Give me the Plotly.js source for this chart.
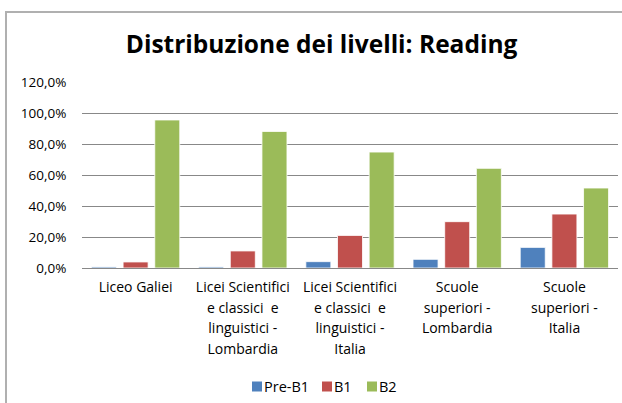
<!DOCTYPE html>
<html>
<head>
<meta charset="utf-8">
<script src="https://cdn.plot.ly/plotly-3.0.1.min.js"></script>
<style>
  html, body { margin: 0; padding: 0; background: #fff; }
  #wrap { position: relative; width: 622px; height: 403px; }
  #chart { position: absolute; left: 0; top: 0; width: 622px; height: 403px; }
  #frame { position: absolute; left: 5px; top: 11px; width: 640px; height: 420px;
           border-top: 2px solid #b0b0b0; border-left: 2px solid #b0b0b0; pointer-events: none; }
</style>
</head>
<body>
<div id="wrap">
  <div id="chart"></div>
  <div id="frame"></div>
</div>
<script>
const categories = [
  "Liceo Galiei",
  "Licei Scientifici<br>e classici  e<br>linguistici -<br>Lombardia",
  "Licei Scientifici<br>e classici  e<br>linguistici -<br>Italia",
  "Scuole<br>superiori -<br>Lombardia",
  "Scuole<br>superiori -<br>Italia"
];
const seriesNames = ["Pre-B1", "B1", "B2"];
const preB1 = [0.7, 0.7, 4.1, 5.6, 13.3];
const b1 = [3.9, 11.0, 21.0, 29.9, 34.8];
const b2 = [95.5, 88.1, 74.8, 64.3, 51.6];
const colors = ["#4F81BD", "#C0504D", "#9BBB59"];
const tickVals = [0, 20, 40, 60, 80, 100, 120];
const tickText = ["0,0%", "20,0%", "40,0%", "60,0%", "80,0%", "100,0%", "120,0%"];

const font = "'Open Sans', 'Liberation Sans', sans-serif";
const W = 622, H = 403;
const M = { l: 82, r: 4, t: 82, b: 135 };
const pw = W - M.l - M.r, ph = H - M.t - M.b;
const px2x = p => (p - M.l) / pw;
const py2y = p => (H - M.b - p) / ph;

const data = [preB1, b1, b2].map((vals, i) => ({
  type: "bar",
  name: seriesNames[i],
  x: categories,
  y: vals,
  marker: { color: colors[i], line: { color: "rgba(255,255,255,0.8)", width: 1 } },
  hoverinfo: "none",
  showlegend: false
}));

// custom legend (small squares right next to the labels)
const legendSquareLeft = [252, 322, 367];
const legendY = 386.5;
const shapes = seriesNames.map((n, i) => ({
  type: "rect", xref: "paper", yref: "paper",
  x0: px2x(legendSquareLeft[i]), x1: px2x(legendSquareLeft[i] + 10),
  y0: py2y(legendY - 5), y1: py2y(legendY + 5),
  fillcolor: colors[i], line: { width: 0 }
}));
const annotations = seriesNames.map((n, i) => ({
  text: n, xref: "paper", yref: "paper",
  x: px2x(legendSquareLeft[i] + 10), y: py2y(legendY),
  xanchor: "left", yanchor: "middle", showarrow: false,
  font: { family: font, size: 14.5, color: "#000" }
}));

const tickLabels = categories.map(c =>
  c.split("<br>").map(l => `<span style="font-size:14px">${l}</span>`).join("<br>"));

const layout = {
  width: W,
  height: H,
  margin: M,
  paper_bgcolor: "#ffffff",
  plot_bgcolor: "#ffffff",
  font: { family: font, size: 13, color: "#000" },
  title: {
    text: "<b>Distribuzione dei livelli: Reading</b>",
    font: { family: font, size: 24.5, color: "#000" },
    x: 0.517, xref: "container", xanchor: "center",
    y: 1 - 44 / H, yref: "container", yanchor: "middle"
  },
  barmode: "group",
  bargap: 0.114,
  bargroupgap: 0.21,
  showlegend: false,
  shapes: shapes,
  annotations: annotations,
  xaxis: {
    type: "category",
    tickvals: categories,
    ticktext: tickLabels,
    showgrid: false,
    showline: true,
    linecolor: "#888888",
    linewidth: 1,
    ticks: "outside",
    ticklen: 4,
    tickcolor: "rgba(0,0,0,0)",
    tickfont: { family: font, size: 15.8, color: "#000" },
    fixedrange: true
  },
  yaxis: {
    range: [0, 120],
    tickvals: tickVals,
    ticktext: tickText,
    showgrid: true,
    gridcolor: "#888888",
    gridwidth: 1,
    zeroline: false,
    showline: false,
    ticks: "outside",
    ticklen: 12,
    tickcolor: "rgba(0,0,0,0)",
    tickfont: { family: font, size: 13.5, color: "#000" },
    fixedrange: true
  }
};

Plotly.newPlot("chart", data, layout, { staticPlot: true, displayModeBar: false });
</script>
</body>
</html>
